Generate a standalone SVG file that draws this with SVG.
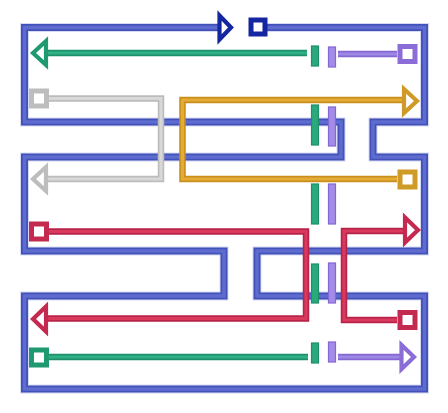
<svg xmlns="http://www.w3.org/2000/svg" xmlns:xlink="http://www.w3.org/1999/xlink" width="448" height="413" viewBox="0 0 448 413">
<style>
.o{fill:none;stroke-linejoin:miter;stroke-linecap:butt}
.w{stroke-width:6.5}
.n{stroke-width:3.2}
.bo{stroke:#4352b8;stroke-width:7}
.bi{stroke:#5e6cd0;stroke-width:3.4}
.bh{stroke:#d6daf4;stroke-width:9}
.head{fill:#fff;stroke-width:4.2;stroke-linejoin:miter}
.sq{fill:#fff;stroke-width:5}
.go{stroke:#1f8f6a}.gi{stroke:#30b086}
.po{stroke:#8467d2}.pi{stroke:#9e88e6}
.ao{stroke:#bcbcbc}.ai{stroke:#d8d8d8}
.oo{stroke:#c98f1c}.oi{stroke:#e4ac34}
.ro{stroke:#b8234a}.ri{stroke:#d8395c}
.gb{fill:#2aa97d;stroke:#1f8f6a;stroke-width:1.2}
.pb{fill:#a38ce8;stroke:#8467d2;stroke-width:1.2}
</style>
<defs>
<path id="pBlue" d="M267,27.5 H424.5 V122 H373 V157 H424.5 V251 H257 V296 H424.5 V389 H24.5 V296 H224 V251 H24.5 V157 H341 V122 H24.5 V27.5 H218"/>
<path id="pG1" d="M307,53 H46"/>
<path id="pG2" d="M49,357 H308"/>
<path id="pP1" d="M397,54 H338"/>
<path id="pP2" d="M338,357 H401"/>
<path id="pA" d="M49,98.5 H161 V179 H46"/>
<path id="pO" d="M397,179 H182.5 V100 H403"/>
<path id="pR1" d="M49,231.5 H306 V318.5 H47"/>
<path id="pR2" d="M397,320 H344 V231 H404"/>
</defs>
<g id="connectors">
<g id="blue-loop">
<use xlink:href="#pBlue" class="o bh"/>
<use xlink:href="#pBlue" class="o bo"/>
<use xlink:href="#pBlue" class="o bi"/>
<rect x="251" y="20" width="14" height="14" class="sq" stroke="#1426a0"/>
<polygon points="231,27.5 219.5,15.5 219.5,39.5" class="head" stroke="#1426a0"/>
</g>
<g id="gray-line">
<use xlink:href="#pA" class="o w ao"/>
<use xlink:href="#pA" class="o n ai"/>
<rect x="31.5" y="91" width="15" height="15" class="sq" stroke="#bdbdbd"/>
<polygon points="33,179 46,167 46,191" class="head" stroke="#bdbdbd"/>
</g>
<g id="orange-line">
<use xlink:href="#pO" class="o w oo"/>
<use xlink:href="#pO" class="o n oi"/>
<rect x="400" y="172" width="15" height="15" class="sq" stroke="#d09a26"/>
<polygon points="417,101 404,89 404,113" class="head" stroke="#d09a26"/>
</g>
<g id="red-line-1">
<use xlink:href="#pR1" class="o w ro"/>
<use xlink:href="#pR1" class="o n ri"/>
<rect x="31.5" y="224" width="15" height="15" class="sq" stroke="#c42a50"/>
<polygon points="33,319 46,306.5 46,331.5" class="head" stroke="#c42a50"/>
</g>
<g id="red-line-2">
<use xlink:href="#pR2" class="o w ro"/>
<use xlink:href="#pR2" class="o n ri"/>
<rect x="400" y="312.5" width="15" height="15" class="sq" stroke="#c42a50"/>
<polygon points="418,230 405,217.5 405,242.5" class="head" stroke="#c42a50"/>
</g>
<g id="green-line">
<use xlink:href="#pG1" class="o w go"/>
<use xlink:href="#pG1" class="o n gi"/>
<use xlink:href="#pG2" class="o w go"/>
<use xlink:href="#pG2" class="o n gi"/>
<polygon points="33,53 46,41 46,65" class="head" stroke="#1f9a70"/>
<rect x="31.5" y="350" width="15" height="15" class="sq" stroke="#1f9a70"/>
<rect x="311.5" y="46" width="7" height="20" class="gb"/>
<rect x="311.5" y="105" width="7" height="40" class="gb"/>
<rect x="311.5" y="184" width="7" height="40" class="gb"/>
<rect x="311.5" y="264" width="7" height="39" class="gb"/>
<rect x="311.5" y="343" width="7" height="20" class="gb"/>
</g>
<g id="purple-line">
<use xlink:href="#pP1" class="o w po"/>
<use xlink:href="#pP1" class="o n pi"/>
<use xlink:href="#pP2" class="o w po"/>
<use xlink:href="#pP2" class="o n pi"/>
<rect x="400" y="46.5" width="15" height="15" class="sq" stroke="#8a6dd6"/>
<polygon points="414,357 401.5,345 401.5,369" class="head" stroke="#8a6dd6"/>
<rect x="328.5" y="47" width="7" height="20" class="pb"/>
<rect x="328.5" y="107" width="7" height="39" class="pb"/>
<rect x="328.5" y="184" width="7" height="40" class="pb"/>
<rect x="328.5" y="263" width="7" height="40" class="pb"/>
<rect x="328.5" y="342" width="7" height="20" class="pb"/>
</g>
</g>
</svg>
